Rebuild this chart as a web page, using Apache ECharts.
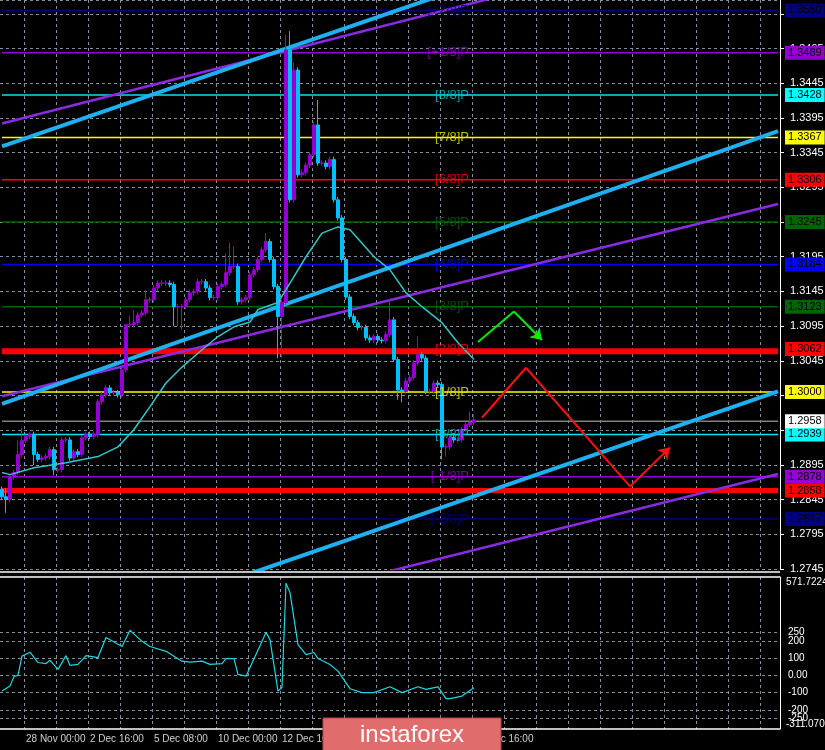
<!DOCTYPE html>
<html><head><meta charset="utf-8">
<script src="https://cdn.jsdelivr.net/npm/echarts@6/dist/echarts.min.js"></script>
<style>html,body{margin:0;padding:0;background:#000}#c{width:825px;height:750px}</style>
</head><body><div id="c"></div>
<script>
const SLOTS = 195;
const firstOpen = 1.2860;
const closes = [1.2849,1.2845,1.2878,1.2884,1.2910,1.2930,1.2936,1.2939,1.2910,1.2903,
1.2905,1.2907,1.2917,1.2888,1.2888,1.2931,1.2931,1.2905,1.2914,1.2910,
1.2934,1.2939,1.2936,1.2939,1.2986,1.2996,1.3006,1.2999,1.2999,1.2996,
1.3032,1.3097,1.3097,1.3100,1.3111,1.3114,1.3133,1.3133,1.3150,1.3157,
1.3157,1.3157,1.3155,1.3123,1.3123,1.3123,1.3133,1.3143,1.3145,1.3159,
1.3159,1.3150,1.3136,1.3136,1.3152,1.3155,1.3172,1.3181,1.3181,1.3130,
1.3133,1.3136,1.3169,1.3176,1.3191,1.3205,1.3217,1.3191,1.3152,1.3109,
1.3129,1.3493,1.3277,1.3464,1.3313,1.3316,1.3327,1.3342,1.3385,1.3330,
1.3330,1.3325,1.3335,1.3277,1.3251,1.3191,1.3137,1.3109,1.3100,1.3093,
1.3093,1.3078,1.3075,1.3080,1.3075,1.3074,1.3083,1.3104,1.3047,1.3003,
1.3001,1.3016,1.3021,1.3042,1.3054,1.3049,1.3001,1.3001,1.3013,1.3011,
1.2921,1.2921,1.2934,1.2931,1.2931,1.2946,1.2953,1.2956,1.2960];
const wickHighs = {1:1.2862,4:1.2930,5:1.2948,31:1.3065,32:1.3110,33:1.3118,36:1.3147,56:1.3200,57:1.3215,58:1.3210,66:1.3229,71:1.3515,72:1.3520,73:1.3475,79:1.3421,97:1.3133,104:1.3080,117:1.2972,118:1.2968};
const wickLows = {1:1.2826,8:1.2895,13:1.2880,43:1.3095,44:1.3095,45:1.3090,69:1.3049,70:1.3049,99:1.2989,100:1.2985,110:1.2903,111:1.2907};
const maPoints = [[0,1.2884],[2,1.2881],[8,1.2891],[16,1.2898],[24,1.2907],[29,1.2921],[33,1.2946],[37,1.2979],[41,1.3013],[45,1.3036],[50,1.3061],[54,1.3080],[58,1.3094],[62,1.3101],[64,1.3119],[69,1.3129],[72,1.3157],[76,1.3195],[80,1.3229],[84,1.3238],[87,1.3234],[93,1.3195],[97,1.3176],[101,1.3143],[105,1.3123],[110,1.3100],[114,1.3071],[118,1.3047]];
const cciPoints = [[0,-91],[2,-62],[3,-6],[4,0],[5,112],[7,135],[9,75],[11,69],[12,88],[14,35],[16,115],[17,58],[19,64],[21,115],[24,104],[26,220],[30,168],[32,262],[35,198],[37,168],[41,140],[45,83],[47,77],[50,83],[52,64],[55,69],[56,98],[58,98],[59,6],[61,-4],[66,250],[67,208],[69,-91],[70,-70],[71,536],[72,481],[74,179],[76,121],[78,133],[79,98],[82,64],[84,25],[87,-77],[90,-100],[93,-100],[97,-66],[100,-100],[104,-66],[106,-81],[109,-66],[111,-135],[112,-135],[115,-120],[118,-71]];
const timeLabels = [[6,'28 Nov 00:00'],[22,'2 Dec 16:00'],[38,'5 Dec 08:00'],[54,'10 Dec 00:00'],[70,'12 Dec 16:00'],[86,'17 Dec 08:00'],[102,'20 Dec 00:00'],[118,'24 Dec 16:00']];
const cciTicks = [250,200,100,0,-100,-200,-250];
const cciMax = 571.7224, cciMin = -311.0704;
const levels = [
 [1.3550,'#000080','#000080','[+2/8]P','#000080'],
 [1.3489,'#9400d3','#9400d3','[+1/8]P','#9400d3'],
 [1.3428,'#00e5ee','#00ffff','[8/8]P','#00c8d0'],
 [1.3367,'#ffff00','#ffff00','[7/8]P','#e8e800'],
 [1.3306,'#ff0000','#ff0000','[6/8]P','#ff0000'],
 [1.3245,'#006400','#006400','[5/8]P','#006400'],
 [1.3184,'#0000ff','#0000ff','[4/8]P','#0000ff'],
 [1.3123,'#006400','#006400','[3/8]P','#006400'],
 [1.3062,'#ff0000','#ff0000','[2/8]P','#ff0000'],
 [1.3000,'#ffff00','#ffff00','[1/8]P','#e8e800'],
 [1.2939,'#00e5ee','#00ffff','[0/8]P','#00c8d0'],
 [1.2878,'#9400d3','#9400d3','[-1/8]P','#9400d3'],
 [1.2817,'#000080','#000080','[-2/8]P','#000080']];
const thickReds = [1.3058, 1.2858];
const currentPrice = 1.2958;
const trendBlue = [[[0,1.3354],[194,1.3739]],[[0,1.2983],[194,1.3376]],[[0,1.2615],[194,1.3001]]];
const trendPurple = [[[0,1.3387],[194,1.3673]],[[0,1.2994],[194,1.3271]],[[0,1.2602],[194,1.2882]]];
const greenArrow = [[119,1.3072],[128,1.3116],[135,1.3075]];
const redArrow = [[120,1.2963],[131,1.3035],[157,1.2864],[167,1.2920]];

const LAST = SLOTS-1;
const cats = Array.from({length:SLOTS},(_, i)=>String(i));
const ohlc = closes.map((c,i)=>{
  const o = i===0?firstOpen:closes[i-1];
  const hi = wickHighs[i]!==undefined?Math.max(wickHighs[i],o,c):Math.max(o,c)+0.0004;
  const lo = wickLows[i]!==undefined?Math.min(wickLows[i],o,c):Math.min(o,c)-0.0004;
  return [o,c,lo,hi];
});
const gridCol = '#8090a0';
const FONT = 'Liberation Sans';
const series = [];
series.push({type:'candlestick',xAxisIndex:0,yAxisIndex:0,data:ohlc,barWidth:3,z:5,
  itemStyle:{color:'#9400d3',color0:'#00bfff',borderColor:'#9400d3',borderColor0:'#00bfff',borderWidth:1}});
function hLine(p,color,width,boxBg,showBox,z){
  return {type:'line',xAxisIndex:0,yAxisIndex:0,data:[[0,p],[LAST,p]],showSymbol:false,z:z||3,silent:true,
    lineStyle:{color:color,width:width},
    endLabel:{show:showBox,formatter:p.toFixed(4),backgroundColor:boxBg,color:'#000',padding:[2,3,1,3],fontSize:11,fontFamily:FONT,distance:7}};
}
levels.forEach(l=>series.push(hLine(l[0],l[1],1.5,l[2],true,3)));
thickReds.forEach((p,k)=>series.push(hLine(p,'#ff0000',5,'#ff0000',k===1,3)));
series.push(hLine(currentPrice,'#808080',1.5,'#ffffff',true,3));
trendPurple.forEach(d=>series.push({type:'line',xAxisIndex:0,yAxisIndex:0,data:d,showSymbol:false,z:4,lineStyle:{color:'#8a2be2',width:2.5}}));
trendBlue.forEach(d=>series.push({type:'line',xAxisIndex:0,yAxisIndex:0,data:d,showSymbol:false,z:4,lineStyle:{color:'#1eb0f0',width:4}}));
series.push({type:'line',xAxisIndex:0,yAxisIndex:0,data:maPoints,showSymbol:false,z:6,lineStyle:{color:'#30c8c8',width:1.5}});
function arrowSegs(pts,col){
  const segs=[];
  for(let k=0;k<pts.length-1;k++){
    segs.push([{coord:[String(pts[k][0]),pts[k][1]],symbol:'none'},{coord:[String(pts[k+1][0]),pts[k+1][1]],symbol:k===pts.length-2?'arrow':'none',symbolSize:11,lineStyle:{color:col,width:2,type:'solid'}}]);
  }
  return segs;
}
series.push({type:'line',xAxisIndex:0,yAxisIndex:0,data:maPoints,showSymbol:false,lineStyle:{opacity:0},z:7,
  markLine:{silent:true,animation:false,label:{show:false},lineStyle:{width:2,type:'solid'},data:arrowSegs(greenArrow,'#00ee00').concat(arrowSegs(redArrow,'#ff1010'))}});
series.push({type:'scatter',xAxisIndex:0,yAxisIndex:0,symbolSize:0,z:8,labelLayout:{hideOverlap:false},
  data:levels.map(l=>({value:['118',l[0]],label:{show:true,formatter:l[3],color:l[4],position:'left',offset:[12,10],fontSize:13,fontFamily:FONT}}))});
const cciMarks=cciTicks.map(v=>({yAxis:v,label:{formatter:v===0?'0.00':String(v)}}));
series.push({type:'line',xAxisIndex:1,yAxisIndex:1,data:cciPoints,showSymbol:false,z:5,lineStyle:{color:'#20d8e0',width:1.2},
  markLine:{silent:true,symbol:'none',animation:false,label:{show:true,position:'end',distance:8,color:'#fff',fontSize:10,fontFamily:FONT},
    lineStyle:{color:gridCol,type:[3,3],width:1},data:cciMarks}});
[[cciMax,'top'],[cciMin,'bottom']].forEach(([v,va])=>series.push({type:'line',xAxisIndex:1,yAxisIndex:1,data:[[0,v],[LAST,v]],showSymbol:false,silent:true,
  lineStyle:{width:0,opacity:0},endLabel:{show:true,formatter:v.toFixed(4),color:'#fff',fontSize:10,fontFamily:FONT,distance:8,verticalAlign:va}}));
series.push({type:'scatter',xAxisIndex:1,yAxisIndex:1,symbolSize:0,z:8,clip:false,labelLayout:{hideOverlap:false},
  data:timeLabels.map(t=>({value:[String(t[0]),cciMin],label:{show:true,formatter:t[1],color:'#fff',position:'bottom',align:'left',offset:[-6,2],fontSize:10,fontFamily:FONT}}))});

const xSplit = {show:true,interval:(idx)=>(idx-6)%8===0&&idx>=6,lineStyle:{color:gridCol,type:[3,3]}};
const option = {
  backgroundColor:'#000',animation:false,
  grid:[{left:0,top:0,width:780,height:569,outerBoundsMode:'none',containLabel:false},
        {left:0,top:577,width:780,height:152,outerBoundsMode:'none',containLabel:false}],
  xAxis:[
    {type:'category',gridIndex:0,data:cats,axisLine:{show:false},axisTick:{show:false},axisLabel:{show:false},splitLine:xSplit},
    {type:'category',gridIndex:1,data:cats,axisLine:{show:false},axisTick:{show:false},axisLabel:{show:false},splitLine:xSplit}
  ],
  yAxis:[
    {type:'value',gridIndex:0,position:'right',min:1.2745,max:1.3565,interval:0.005,
     axisLine:{show:true,lineStyle:{color:'#fff'}},axisTick:{show:true,length:4,lineStyle:{color:'#fff'}},
     axisLabel:{color:'#fff',fontSize:11,margin:10,showMaxLabel:false,hideOverlap:false,formatter:v=>v.toFixed(4),fontFamily:FONT},
     splitLine:{show:true,lineStyle:{color:gridCol,type:[3,3]}}},
    {type:'value',gridIndex:1,position:'right',min:cciMin,max:cciMax,
     axisLine:{show:true,lineStyle:{color:'#fff'}},axisTick:{show:false},splitLine:{show:false},axisLabel:{show:false}}
  ],
  series:series,
  graphic:[
    {type:'line',shape:{x1:0,y1:572,x2:780,y2:572},style:{stroke:'#fff',lineWidth:1.5},z:50},
    {type:'line',shape:{x1:0,y1:577,x2:780,y2:577},style:{stroke:'#fff',lineWidth:1.5},z:50},
    {type:'line',shape:{x1:0,y1:729,x2:780,y2:729},style:{stroke:'#fff',lineWidth:1.5},z:50},
    {type:'rect',shape:{x:323,y:718,width:178,height:34},style:{fill:'#e06c6c',stroke:'#b04848',lineWidth:1},z:100},
    {type:'text',x:412,y:735,style:{text:'instaforex',fill:'#fff',font:'24px "Liberation Sans"',align:'center',verticalAlign:'middle'},z:101}
  ]
};
const chart = echarts.init(document.getElementById('c'));
chart.setOption(option);
</script></body></html>
